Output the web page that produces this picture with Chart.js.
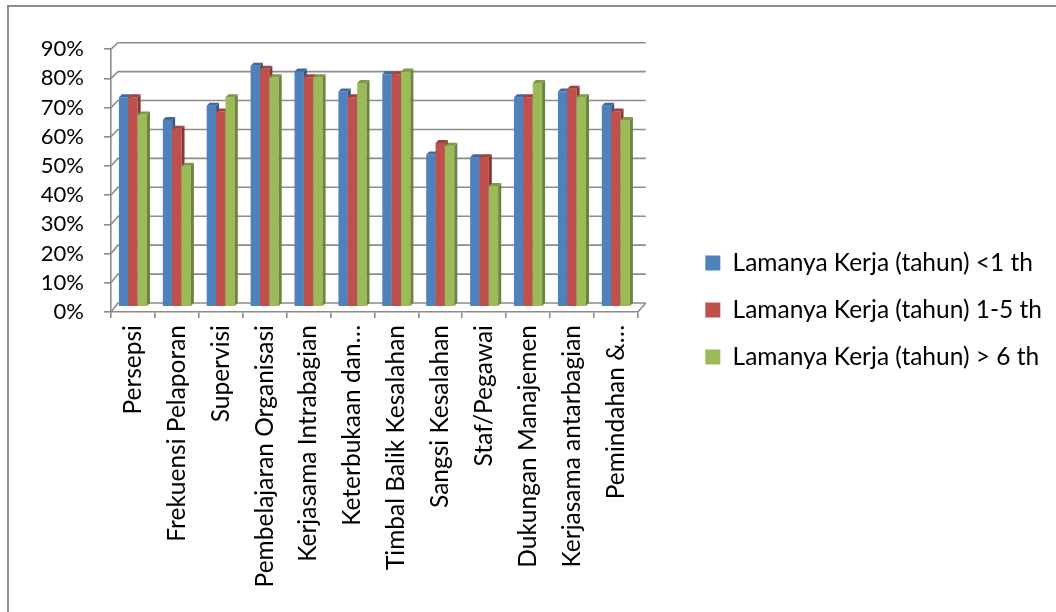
<!DOCTYPE html>
<html>
<head>
<meta charset="utf-8">
<script src="https://cdn.jsdelivr.net/npm/chart.js@4.4.1/dist/chart.umd.min.js"></script>
<style>
  html, body { margin: 0; padding: 0; background: #fff; overflow: hidden; }
  #frame { position: absolute; left: 7px; top: 5px; width: 1200px; height: 800px; border: 2px solid #8f8f8f; }
  #chart { position: absolute; left: 0; top: 0; }
</style>
</head>
<body>
<div id="frame"></div>
<canvas id="chart" width="1056" height="612"></canvas>
<script>
const categories = [
  "Persepsi", "Frekuensi Pelaporan", "Supervisi", "Pembelajaran Organisasi",
  "Kerjasama Intrabagian", "Keterbukaan dan…", "Timbal Balik Kesalahan",
  "Sangsi Kesalahan", "Staf/Pegawai", "Dukungan Manajemen",
  "Kerjasama antarbagian", "Pemindahan &…"
];
const seriesNames = [
  "Lamanya Kerja (tahun) <1 th",
  "Lamanya Kerja (tahun) 1-5 th",
  "Lamanya Kerja (tahun) > 6 th"
];
const kerjaUnder1 = [73, 65, 70, 84, 82, 75, 81, 53, 52, 73, 75, 70];
const kerja1to5   = [73, 62, 68, 83, 80, 73, 81, 57, 52, 73, 76, 68];
const kerjaOver6  = [67, 49, 73, 80, 80, 78, 82, 56, 42, 78, 73, 65];
const seriesColors = ["#4F81BD", "#C0504D", "#9BBB59"];
const tickMin = 0, tickMax = 90, tickStep = 10;

const FONT = "Lato";
const gridColor = "#8c8c8c";

function shade(hex, f) {
  const n = parseInt(hex.slice(1), 16);
  const r = Math.round(((n >> 16) & 255) * f);
  const g = Math.round(((n >> 8) & 255) * f);
  const b = Math.round((n & 255) * f);
  return `rgb(${r},${g},${b})`;
}

// let the legend take the width it needs on the right
const legendWidthPlugin = {
  id: "legendWidth",
  beforeLayout(chart) {
    const lg = chart.legend;
    if (lg && !lg._wide) {
      const orig = lg.update.bind(lg);
      lg.update = (w, h, m) => orig(Math.max(w, 500), h, m);
      lg._wide = true;
    }
  }
};

// back wall, then bars left to right with their 3d faces
const depthPlugin = {
  id: "depth",
  beforeDatasetsDraw(chart) {
    const { ctx, chartArea: a } = chart;
    const y2 = chart.scales.y2;
    ctx.save();
    ctx.strokeStyle = gridColor;
    ctx.lineWidth = 1.6;
    ctx.beginPath();
    y2.ticks.forEach(t => {
      const yf = y2.getPixelForValue(t.value);
      const yb = yf - 9 + 2.5 * (a.bottom - yf) / (a.bottom - a.top);
      ctx.moveTo(a.left, yf);
      ctx.lineTo(a.left + 7, yb);
      ctx.lineTo(a.right + 8, yb);
    });
    ctx.moveTo(a.right, a.bottom);
    ctx.lineTo(a.right + 8, a.bottom - 9);
    ctx.stroke();

    const d = 3;
    chart.data.datasets.forEach((ds, k) => {
      const meta = chart.getDatasetMeta(k);
      const base = seriesColors[k];
      meta.data.forEach(el => {
        el.draw(ctx, a);
        const { x, y, base: b, width } = el.getProps(["x", "y", "base", "width"], true);
        const l = x - width / 2, r = x + width / 2;
        ctx.fillStyle = shade(base, 0.7);
        ctx.beginPath();
        ctx.moveTo(r, y); ctx.lineTo(r + d, y - d); ctx.lineTo(r + d, b - d); ctx.lineTo(r, b);
        ctx.closePath(); ctx.fill();
        ctx.fillStyle = shade(base, 0.82);
        ctx.beginPath();
        ctx.moveTo(l, y); ctx.lineTo(l + d, y - d); ctx.lineTo(r + d, y - d); ctx.lineTo(r, y);
        ctx.closePath(); ctx.fill();
      });
    });
    ctx.restore();
    return false;
  }
};

const seriesData = [kerjaUnder1, kerja1to5, kerjaOver6];

new Chart(document.getElementById("chart"), {
  type: "bar",
  data: {
    labels: categories,
    datasets: seriesNames.map((name, i) => ({
      label: name,
      data: seriesData[i],
      backgroundColor: seriesColors[i],
      borderWidth: 0,
      yAxisID: "y"
    }))
  },
  options: {
    responsive: false,
    animation: false,
    events: [],
    layout: { padding: { top: 8, right: 4, bottom: 0, left: 0 } },
    datasets: { bar: { barPercentage: 1, categoryPercentage: 0.64 } },
    scales: {
      x: {
        grid: { drawOnChartArea: false, offset: true, tickLength: 6, color: gridColor, lineWidth: 1.6 },
        border: { color: gridColor, width: 1.6 },
        ticks: {
          autoSkip: false, maxRotation: 90, minRotation: 90, padding: 7,
          color: "#000", font: { family: FONT, size: 24.5 }
        },
        afterFit: s => { s.height = 300; }
      },
      y2: {
        position: "left",
        min: tickMin, max: tickMax,
        grid: { drawOnChartArea: false, tickLength: 7, color: gridColor, lineWidth: 1.6 },
        border: { color: gridColor, width: 1.6 },
        ticks: {
          stepSize: tickStep, autoSkip: false, padding: 20, color: "#000",
          font: { family: FONT, size: 22 },
          callback: v => v + "%"
        },
        afterFit: s => { s.width = 111; }
      },
      y: {
        position: "right",
        min: -2.1, max: 89.8,
        grid: { display: false },
        border: { display: false },
        ticks: { display: false },
        afterFit: s => { s.width = 45; }
      }
    },
    plugins: {
      tooltip: { enabled: false },
      title: {
        display: true, text: "", fullSize: false,
        font: { size: 1 }, padding: { top: 40, bottom: 0 }
      },
      legend: {
        position: "right",
        labels: {
          boxWidth: 15, boxHeight: 15, padding: 22.5, color: "#000",
          font: { family: FONT, size: 24.5 }
        }
      }
    }
  },
  plugins: [legendWidthPlugin, depthPlugin]
});
</script>
</body>
</html>
